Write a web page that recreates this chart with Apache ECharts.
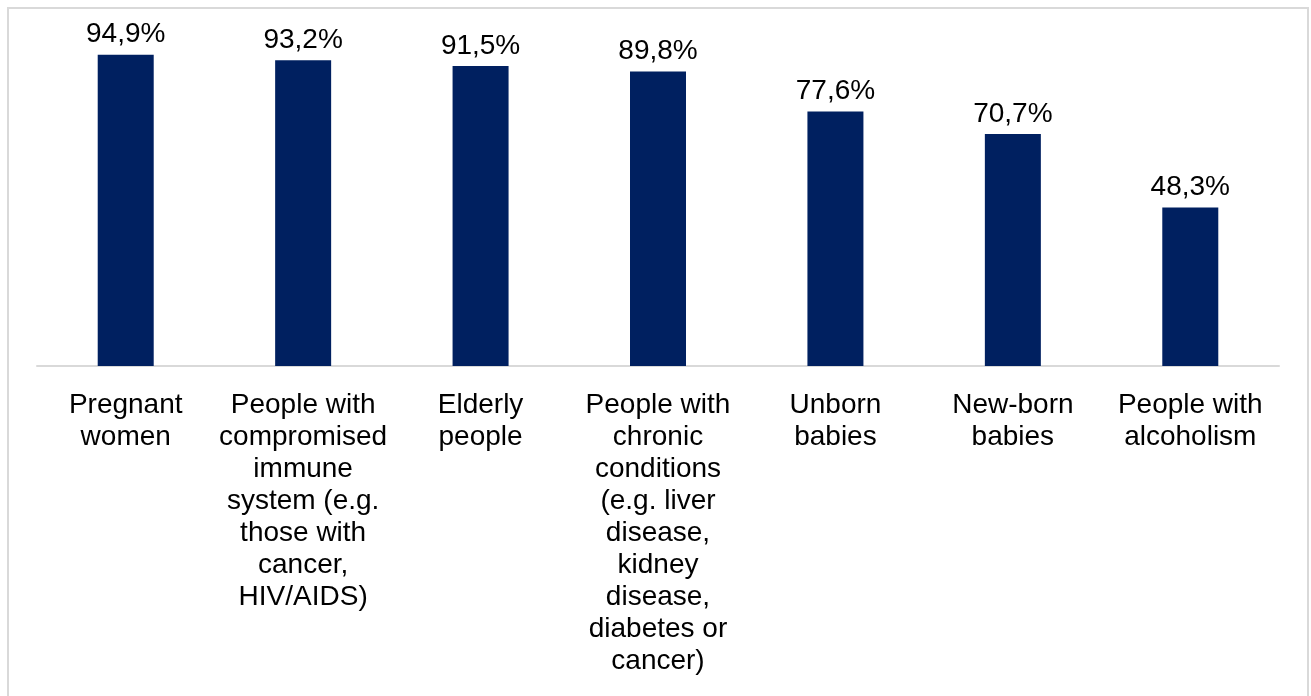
<!DOCTYPE html>
<html>
<head>
<meta charset="utf-8">
<script src="https://cdn.jsdelivr.net/npm/echarts@6/dist/echarts.min.js"></script>
<style>
html,body{margin:0;padding:0;background:#fff;}
#chart{width:1311px;height:696px;}
</style>
</head>
<body>
<div id="chart"></div>
<script>
const categories = [
  "Pregnant\nwomen",
  "People with\ncompromised\nimmune\nsystem (e.g.\nthose with\ncancer,\nHIV/AIDS)",
  "Elderly\npeople",
  "People with\nchronic\nconditions\n(e.g. liver\ndisease,\nkidney\ndisease,\ndiabetes or\ncancer)",
  "Unborn\nbabies",
  "New-born\nbabies",
  "People with\nalcoholism"
];
const values = [94.9, 93.2, 91.5, 89.8, 77.6, 70.7, 48.3];

const chart = echarts.init(document.getElementById('chart'), null, {renderer: 'canvas'});
chart.setOption({
  animation: false,
  backgroundColor: '#fff',
  graphic: [{
    type: 'rect',
    shape: {x: 8, y: 8, width: 1300, height: 700},
    style: {fill: 'none', stroke: '#d9d9d9', lineWidth: 2},
    silent: true
  }],
  grid: {left: 37, right: 32, top: 38, bottom: 330, containLabel: false},
  xAxis: {
    type: 'category',
    data: categories,
    axisLine: {show: true, lineStyle: {color: '#d9d9d9', width: 2}},
    axisTick: {show: false},
    axisLabel: {
      interval: 0,
      color: '#000',
      fontFamily: 'Liberation Sans, Arial, sans-serif',
      fontSize: 28,
      lineHeight: 32,
      margin: 23,
      align: 'center'
    }
  },
  yAxis: {
    type: 'value',
    min: 0,
    max: 100,
    show: false,
    splitLine: {show: false}
  },
  series: [{
    type: 'bar',
    data: values,
    barWidth: 56,
    itemStyle: {color: '#002060'},
    label: {
      show: true,
      position: 'top',
      distance: 6,
      color: '#000',
      fontFamily: 'Liberation Sans, Arial, sans-serif',
      fontSize: 28,
      formatter: p => p.value.toFixed(1).replace('.', ',') + '%'
    }
  }]
});
</script>
</body>
</html>
